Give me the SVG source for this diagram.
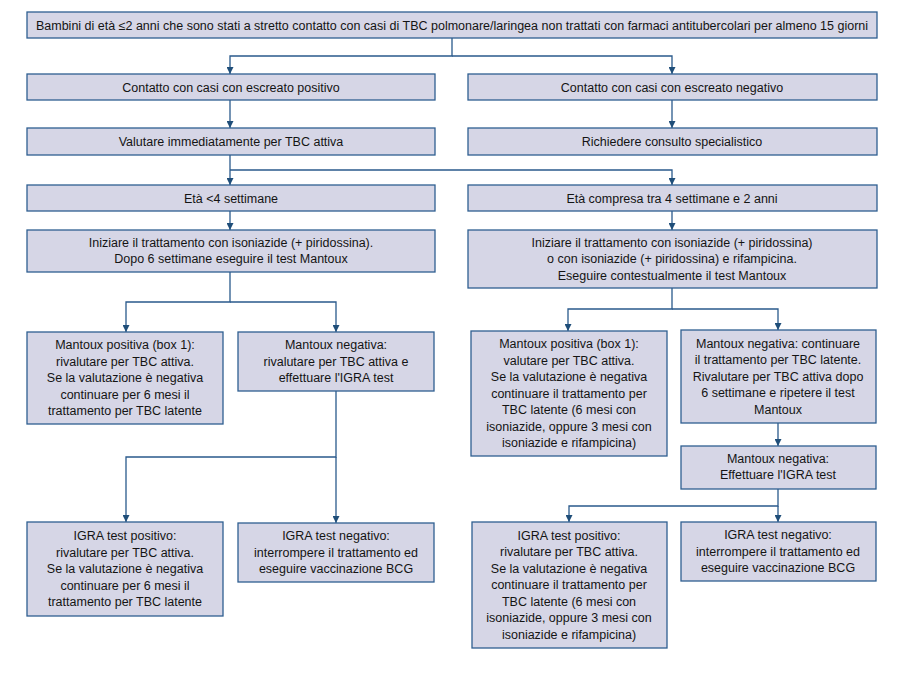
<svg xmlns="http://www.w3.org/2000/svg" width="900" height="675" viewBox="0 0 900 675">
<defs>
<marker id="arr" viewBox="0 0 10 10" refX="10" refY="5" markerWidth="7" markerHeight="7" markerUnits="userSpaceOnUse" orient="auto">
<path d="M0,0 L10,5 L0,10 z" fill="#1f4e79"/>
</marker>
<style>
.box{fill:#d6d6e6;stroke:#2f5f91;stroke-width:1.3}
.t{font-family:"Liberation Sans",Arial,sans-serif;font-size:12.5px;fill:#141414;text-anchor:middle}
.c{fill:none;stroke:#2a5a8c;stroke-width:1.3}
</style>
</defs>
<rect width="900" height="675" fill="#ffffff"/>
<g id="connectors">
<path class="c" d="M452,38 V56 H230 V74" marker-end="url(#arr)"/>
<path class="c" d="M452,56 H672 V74" marker-end="url(#arr)"/>
<path class="c" d="M230,100 V128" marker-end="url(#arr)"/>
<path class="c" d="M672,100 V128" marker-end="url(#arr)"/>
<path class="c" d="M230,155 V185" marker-end="url(#arr)"/>
<path class="c" d="M230,170 H672 V185" marker-end="url(#arr)"/>
<path class="c" d="M230,211 V230" marker-end="url(#arr)"/>
<path class="c" d="M672,211 V230" marker-end="url(#arr)"/>
<path class="c" d="M230,272 V302 H126 V332" marker-end="url(#arr)"/>
<path class="c" d="M230,302 H336 V332" marker-end="url(#arr)"/>
<path class="c" d="M672,288 V309 H568 V331" marker-end="url(#arr)"/>
<path class="c" d="M672,309 H778 V330" marker-end="url(#arr)"/>
<path class="c" d="M336,391 V457 H126 V522" marker-end="url(#arr)"/>
<path class="c" d="M336,457 V523" marker-end="url(#arr)"/>
<path class="c" d="M778,423 V446" marker-end="url(#arr)"/>
<path class="c" d="M778,489 V506 H569 V522" marker-end="url(#arr)"/>
<path class="c" d="M778,506 V522" marker-end="url(#arr)"/>
</g>
<g id="n-top">
<rect class="box" x="27" y="12" width="850" height="26"/>
<text class="t" x="452" y="29.5">Bambini di età ≤2 anni che sono stati a stretto contatto con casi di TBC polmonare/laringea non trattati con farmaci antitubercolari per almeno 15 giorni</text>
</g>
<g id="n-pos">
<rect class="box" x="27" y="74" width="408" height="26"/>
<text class="t" x="231" y="91.5">Contatto con casi con escreato positivo</text>
</g>
<g id="n-neg">
<rect class="box" x="468" y="74" width="409" height="26"/>
<text class="t" x="672" y="91.5">Contatto con casi con escreato negativo</text>
</g>
<g id="n-valutare">
<rect class="box" x="27" y="128" width="408" height="27"/>
<text class="t" x="231" y="145.5">Valutare immediatamente per TBC attiva</text>
</g>
<g id="n-richiedere">
<rect class="box" x="468" y="128" width="409" height="27"/>
<text class="t" x="672" y="145.5">Richiedere consulto specialistico</text>
</g>
<g id="n-eta4">
<rect class="box" x="27" y="185" width="408" height="26"/>
<text class="t" x="231" y="202.5">Età &lt;4 settimane</text>
</g>
<g id="n-eta2">
<rect class="box" x="468" y="185" width="409" height="26"/>
<text class="t" x="672" y="202.5">Età compresa tra 4 settimane e 2 anni</text>
</g>
<g id="n-iniz-l">
<rect class="box" x="27" y="230" width="408" height="42"/>
<text class="t"><tspan x="231" y="246.8">Iniziare il trattamento con isoniazide (+ piridossina).</tspan><tspan x="231" y="263.3">Dopo 6 settimane eseguire il test Mantoux</tspan></text>
</g>
<g id="n-iniz-r">
<rect class="box" x="468" y="230" width="409" height="58"/>
<text class="t"><tspan x="672" y="246.5">Iniziare il trattamento con isoniazide (+ piridossina)</tspan><tspan x="672" y="263">o con isoniazide (+ piridossina) e rifampicina.</tspan><tspan x="672" y="279.5">Eseguire contestualmente il test Mantoux</tspan></text>
</g>
<g id="n-mpos-l">
<rect class="box" x="27" y="332" width="196" height="92"/>
<text class="t"><tspan x="125" y="349">Mantoux positiva (box 1):</tspan><tspan x="125" y="365.5">rivalutare per TBC attiva.</tspan><tspan x="125" y="382">Se la valutazione è negativa</tspan><tspan x="125" y="398.5">continuare per 6 mesi il</tspan><tspan x="125" y="415">trattamento per TBC latente</tspan></text>
</g>
<g id="n-mneg-l">
<rect class="box" x="238" y="332" width="196" height="59"/>
<text class="t"><tspan x="336" y="349">Mantoux negativa:</tspan><tspan x="336" y="365.5">rivalutare per TBC attiva e</tspan><tspan x="336" y="382">effettuare l'IGRA test</tspan></text>
</g>
<g id="n-igpos-l">
<rect class="box" x="27" y="522" width="196" height="94"/>
<text class="t"><tspan x="125" y="540">IGRA test positivo:</tspan><tspan x="125" y="556.5">rivalutare per TBC attiva.</tspan><tspan x="125" y="573">Se la valutazione è negativa</tspan><tspan x="125" y="589.5">continuare per 6 mesi il</tspan><tspan x="125" y="606">trattamento per TBC latente</tspan></text>
</g>
<g id="n-igneg-l">
<rect class="box" x="238" y="523" width="196" height="59"/>
<text class="t"><tspan x="336" y="540">IGRA test negativo:</tspan><tspan x="336" y="556.5">interrompere il trattamento ed</tspan><tspan x="336" y="573">eseguire vaccinazione BCG</tspan></text>
</g>
<g id="n-mpos-r">
<rect class="box" x="471" y="331" width="196" height="125"/>
<text class="t"><tspan x="569" y="348">Mantoux positiva (box 1):</tspan><tspan x="569" y="364.5">valutare per TBC attiva.</tspan><tspan x="569" y="381">Se la valutazione è negativa</tspan><tspan x="569" y="397.5">continuare il trattamento per</tspan><tspan x="569" y="414">TBC latente (6 mesi con</tspan><tspan x="569" y="430.5">isoniazide, oppure 3 mesi con</tspan><tspan x="569" y="447">isoniazide e rifampicina)</tspan></text>
</g>
<g id="n-mneg-r">
<rect class="box" x="681" y="330" width="195" height="93"/>
<text class="t"><tspan x="778" y="347.5">Mantoux negativa: continuare</tspan><tspan x="778" y="364">il trattamento per TBC latente.</tspan><tspan x="778" y="380.5">Rivalutare per TBC attiva dopo</tspan><tspan x="778" y="397">6 settimane e ripetere il test</tspan><tspan x="778" y="413.5">Mantoux</tspan></text>
</g>
<g id="n-mneg2-r">
<rect class="box" x="681" y="446" width="195" height="43"/>
<text class="t"><tspan x="778" y="462.5">Mantoux negativa:</tspan><tspan x="778" y="479">Effettuare l'IGRA test</tspan></text>
</g>
<g id="n-igpos-r">
<rect class="box" x="472" y="522" width="195" height="126"/>
<text class="t"><tspan x="569" y="539.5">IGRA test positivo:</tspan><tspan x="569" y="556">rivalutare per TBC attiva.</tspan><tspan x="569" y="572.5">Se la valutazione è negativa</tspan><tspan x="569" y="589">continuare il trattamento per</tspan><tspan x="569" y="605.5">TBC latente (6 mesi con</tspan><tspan x="569" y="622">isoniazide, oppure 3 mesi con</tspan><tspan x="569" y="638.5">isoniazide e rifampicina)</tspan></text>
</g>
<g id="n-igneg-r">
<rect class="box" x="681" y="522" width="195" height="59"/>
<text class="t"><tspan x="778" y="539">IGRA test negativo:</tspan><tspan x="778" y="555.5">interrompere il trattamento ed</tspan><tspan x="778" y="572">eseguire vaccinazione BCG</tspan></text>
</g>
</svg>
